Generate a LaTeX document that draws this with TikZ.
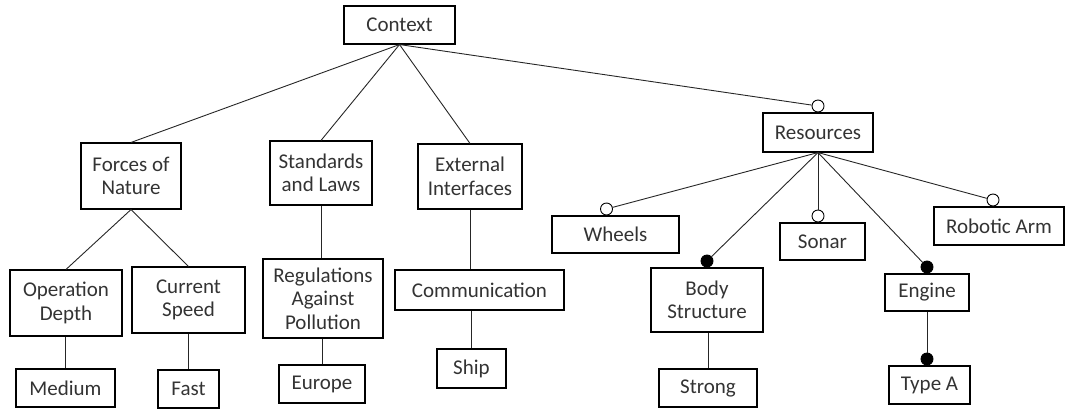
\documentclass[tikz,border=0pt]{standalone}
\usepackage{fontspec}
\setmainfont{Carlito}
\begin{document}
\begin{tikzpicture}[x=1pt,y=-1pt,
  box/.style={draw=black, line width=1.1pt, inner sep=0pt, align=center,
    font=\fontsize{21}{23.5}\selectfont, text=black!80},
  link/.style={draw=black!85, line width=0.9pt},
  opencirc/.style={circle, draw=black, fill=white, line width=0.9pt, inner sep=0pt, minimum size=12pt, anchor=south},
  fullcirc/.style={circle, draw=black, fill=black, line width=0.9pt, inner sep=0pt, minimum size=12pt, anchor=south}]
\useasboundingbox (0,0) rectangle (1075,408);

% root
\node[box, minimum width=111pt, minimum height=38pt] (ctx) at (399.5,25) {Context};

% first level
\node[box, minimum width=100pt, minimum height=66pt] (fon) at (131,176) {Forces of\\Nature};
\node[box, minimum width=102pt, minimum height=64pt] (sal) at (321,173) {Standards\\and Laws};
\node[box, minimum width=104pt, minimum height=65pt] (ext) at (470,176.5) {External\\Interfaces};
\node[box, minimum width=110pt, minimum height=39pt] (res) at (818,132.5) {Resources};

% second level
\node[box, minimum width=112pt, minimum height=66pt] (opd) at (66,303) {Operation\\Depth};
\node[box, minimum width=113pt, minimum height=66pt] (cur) at (188.5,300) {Current\\Speed};
\node[box, minimum width=120pt, minimum height=79pt] (reg) at (323,298.5) {Regulations\\Against\\Pollution};
\node[box, minimum width=169pt, minimum height=40pt] (com) at (479.5,290) {Communication};
\node[box, minimum width=127pt, minimum height=37pt] (whl) at (615.5,234.5) {Wheels};
\node[box, minimum width=85pt, minimum height=37pt] (son) at (822.5,241.5) {Sonar};
\node[box, minimum width=130pt, minimum height=38pt] (rob) at (999,226) {Robotic Arm};
\node[box, minimum width=112pt, minimum height=64pt] (bod) at (707,300) {Body\\Structure};
\node[box, minimum width=84pt, minimum height=37pt] (eng) at (927,292.5) {Engine};

% third level
\node[box, minimum width=99pt, minimum height=38pt] (med) at (65.5,388) {Medium};
\node[box, minimum width=61pt, minimum height=38pt] (fst) at (188.5,389) {Fast};
\node[box, minimum width=86pt, minimum height=38pt] (eur) at (322,384) {Europe};
\node[box, minimum width=69pt, minimum height=39pt] (shp) at (471.5,368.5) {Ship};
\node[box, minimum width=98pt, minimum height=38pt] (str) at (708,388) {Strong};
\node[box, minimum width=81pt, minimum height=38pt] (typ) at (929.5,385) {Type A};

% optional / mandatory markers
\node[opencirc] (resk) at (res.north) {};
\node[opencirc] (whlk) at ([xshift=-9pt]whl.north) {};
\node[opencirc] (sonk) at (res.south |- son.north) {};
\node[opencirc] (robk) at ([xshift=-6pt]rob.north) {};
\node[fullcirc] (bodk) at (bod.north) {};
\node[fullcirc] (engk) at (eng.north) {};
\node[fullcirc] (typk) at (eng.south |- typ.north) {};

% connectors
\draw[link] (ctx.south) -- (fon.north);
\draw[link] (ctx.south) -- (sal.north);
\draw[link] (ctx.south) -- (ext.north);
\draw[link] (ctx.south) -- (resk);

\draw[link] (fon.south) -- (opd.north);
\draw[link] (fon.south) -- (cur.north);
\draw[link] (med.north |- opd.south) -- (med.north);
\draw[link] (cur.south) -- (fst.north);
\draw[link] (sal.south) -- (sal.south |- reg.north);
\draw[link] (eur.north |- reg.south) -- (eur.north);
\draw[link] (ext.south) -- (ext.south |- com.north);
\draw[link] (shp.north |- com.south) -- (shp.north);

\draw[link] (res.south) -- (whlk);
\draw[link] (res.south) -- (bodk);
\draw[link] (res.south) -- (sonk);
\draw[link] (res.south) -- (engk);
\draw[link] (res.south) -- (robk);
\draw[link] (str.north |- bod.south) -- (str.north);
\draw[link] (eng.south) -- (typk);
\end{tikzpicture}
\end{document}
